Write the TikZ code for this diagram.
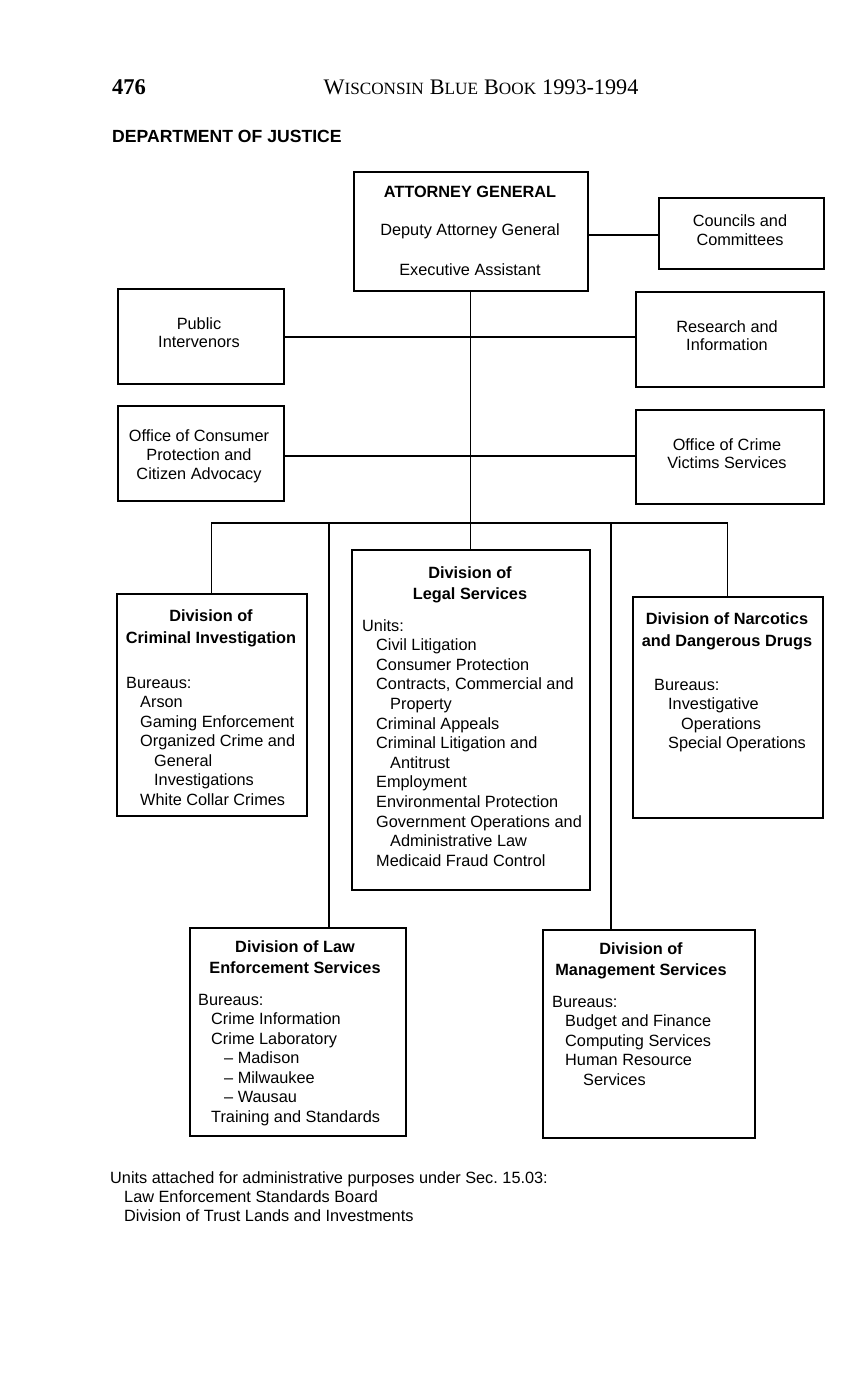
\documentclass[tikz,border=0pt]{standalone}
\usepackage{fontspec}
\setmainfont{Liberation Sans}
\newfontfamily\serifb{Liberation Serif}
\frenchspacing
\begin{document}
\begin{tikzpicture}[x=1pt,y=-1pt,
  box/.style={draw, line width=1.6pt, anchor=north west, inner sep=0pt},
  conn/.style={line width=1.3pt},
  txt/.style={anchor=base west, inner sep=0pt, font=\fontsize{16.3}{19.6}\selectfont},
  ctr/.style={anchor=base, inner sep=0pt, font=\fontsize{16.3}{19.6}\selectfont},
  ctrb/.style={anchor=base, inner sep=0pt, font=\fontsize{16.3}{19.6}\selectfont\bfseries}]
\useasboundingbox (0,0) rectangle (859,1380);
\fill[white] (0,0) rectangle (859,1380);

% header
\node[anchor=base west, inner sep=0pt, font=\serifb\bfseries\fontsize{22.5}{22}\selectfont] (pg) at (112,95) {476};
\node[anchor=base, inner sep=0pt, font=\serifb] (hd) at (481,95) {{\fontsize{22.2}{22}\selectfont W}{\fontsize{17.2}{20}\selectfont ISCONSIN}\hspace{6pt}{\fontsize{22.2}{22}\selectfont B}{\fontsize{17.2}{20}\selectfont LUE}\hspace{6pt}{\fontsize{22.2}{22}\selectfont B}{\fontsize{17.2}{20}\selectfont OOK}\hspace{6pt}{\fontsize{22.2}{22}\selectfont 1993-1994}};
\node[anchor=base west, inner sep=0pt, font=\bfseries\fontsize{17.6}{20}\selectfont] (dept) at (112,143) {DEPARTMENT OF JUSTICE};

% boxes
\node[box, minimum width=234pt, minimum height=119pt] (ag) at (353,171) {};
\node[box, minimum width=165pt, minimum height=71pt] (cc) at (658,197) {};
\node[box, minimum width=166pt, minimum height=95pt] (pi) at (117,288) {};
\node[box, minimum width=188pt, minimum height=95pt] (ri) at (635,291) {};
\node[box, minimum width=166pt, minimum height=95pt] (oc) at (117,405) {};
\node[box, minimum width=188pt, minimum height=94pt] (ov) at (635,409) {};
\node[box, minimum width=190pt, minimum height=222pt] (ci) at (116,593) {};
\node[box, minimum width=238pt, minimum height=340pt] (ls) at (351,549) {};
\node[box, minimum width=190pt, minimum height=221pt] (nd) at (632,596) {};
\node[box, minimum width=216pt, minimum height=208pt] (le) at (189,927) {};
\node[box, minimum width=212pt, minimum height=208pt] (ms) at (542,929) {};

% connectors
\coordinate (bus) at (470,523);
\coordinate (dle) at (329,523);
\coordinate (dms) at (611,523);
\coordinate (yc) at (0,235);
\coordinate (yp) at (0,337);
\coordinate (yo) at (0,456);
\draw[conn] (ag.east |- yc) -- (cc.west |- yc);
\draw[conn] (pi.east |- yp) -- (ri.west |- yp);
\draw[conn] (oc.east |- yo) -- (ov.west |- yo);
\draw[conn] (ag.south) -- (ag.south |- bus);
\draw[conn] (ci.north) -- (ci.north |- bus) -- (nd.north |- bus) -- (nd.north);
\draw[conn] (ls.north |- bus) -- (ls.north);
\draw[conn] (dle) -- (dle |- le.north);
\draw[conn] (dms) -- (dms |- ms.north);

% AG
\node[ctrb] (ag1) at (470,198) {ATTORNEY GENERAL};
\node[ctr] (ag2) at (470,236) {Deputy Attorney General};
\node[ctr] (ag3) at (470,275) {Executive Assistant};
% small boxes
\node[ctr] (cc1) at (740,227) {Councils and};
\node[ctr] (cc2) at (740,245.5) {Committees};
\node[ctr] (pi1) at (199,329) {Public};
\node[ctr] (pi2) at (199,347.5) {Intervenors};
\node[ctr] (ri1) at (727,332) {Research and};
\node[ctr] (ri2) at (727,350.5) {Information};
\node[ctr] (oc1) at (199,441) {Office of Consumer};
\node[ctr] (oc2) at (199,460) {Protection and};
\node[ctr] (oc3) at (199,479) {Citizen Advocacy};
\node[ctr] (ov1) at (727,450) {Office of Crime};
\node[ctr] (ov2) at (727,468.5) {Victims Services};

% Criminal Investigation
\node[ctrb] (cit1) at (211,621) {Division of};
\node[ctrb] (cit2) at (211,643) {Criminal Investigation};
\foreach \dx/\t [count=\i] in {0/Bureaus:, 14/Arson, 14/Gaming Enforcement, 14/Organized Crime and, 28/General, 28/Investigations, 14/White Collar Crimes}
  \node[txt] (ci\i) at (126+\dx, 668.5+19.5*\i) {\t};

% Legal Services
\node[ctrb] (lst1) at (470,578) {Division of};
\node[ctrb] (lst2) at (470,599) {Legal Services};
\foreach \dx/\t [count=\i] in {0/Units:, 14/Civil Litigation, 14/Consumer Protection, 14/{Contracts, Commercial and}, 28/Property, 14/Criminal Appeals, 14/Criminal Litigation and, 28/Antitrust, 14/Employment, 14/Environmental Protection, 14/Government Operations and, 28/Administrative Law, 14/Medicaid Fraud Control}
  \node[txt] (ls\i) at (362+\dx, 611.4+19.6*\i) {\t};

% Narcotics
\node[ctrb] (ndt1) at (727,624) {Division of Narcotics};
\node[ctrb] (ndt2) at (727,646) {and Dangerous Drugs};
\foreach \dx/\t [count=\i] in {0/Bureaus:, 14/Investigative, 27/Operations, 14/Special Operations}
  \node[txt] (nd\i) at (654+\dx, 670.5+19.5*\i) {\t};

% Law Enforcement
\node[ctrb] (let1) at (295,952) {Division of Law};
\node[ctrb] (let2) at (295,973) {Enforcement Services};
\foreach \dx/\t [count=\i] in {0/Bureaus:, 13/Crime Information, 13/Crime Laboratory, 26/– Madison, 26/– Milwaukee, 26/– Wausau, 13/Training and Standards}
  \node[txt] (le\i) at (198+\dx, 985.5+19.5*\i) {\t};

% Management
\node[ctrb] (mst1) at (641,954) {Division of};
\node[ctrb] (mst2) at (641,975) {Management Services};
\foreach \dx/\t [count=\i] in {0/Bureaus:, 13/Budget and Finance, 13/Computing Services, 13/Human Resource, 31/Services}
  \node[txt] (ms\i) at (552+\dx, 987.5+19.5*\i) {\t};

% footer
\node[txt] (f1) at (110,1183) {Units attached for administrative purposes under Sec. 15.03:};
\node[txt] (f2) at (124,1202) {Law Enforcement Standards Board};
\node[txt] (f3) at (124,1221) {Division of Trust Lands and Investments};
\end{tikzpicture}
\end{document}
